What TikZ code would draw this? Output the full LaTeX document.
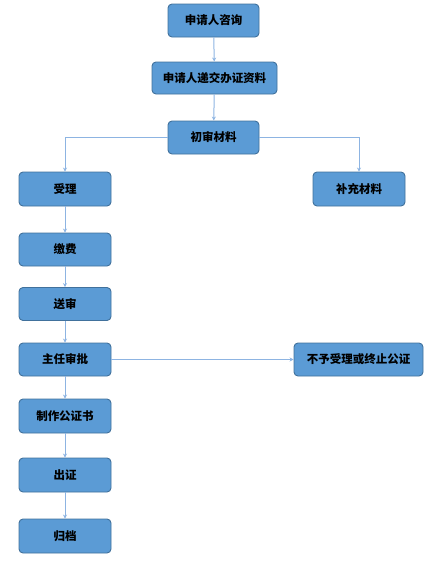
\documentclass[tikz,border=0pt]{standalone}
\usepackage{fontspec}
\newfontfamily\cjk{Noto Sans CJK SC}
\usetikzlibrary{arrows.meta}
\definecolor{boxfill}{RGB}{91,155,213}
\definecolor{boxdraw}{RGB}{65,113,156}
\definecolor{arr}{RGB}{141,180,226}
\tikzset{
  box/.style={draw=boxdraw, fill=boxfill, line width=0.9pt, rounded corners=4pt,
    minimum height=33pt, minimum width=92pt, inner sep=0pt,
    font=\cjk\bfseries\fontsize{11.5pt}{13pt}\selectfont, text=black},
  conn/.style={draw=arr, line width=1pt, -{Stealth[length=4pt,width=4pt]}}
}
\begin{document}
\begin{tikzpicture}[x=1pt,y=-1pt]
\useasboundingbox (0,0) rectangle (437,574);
\node[box, minimum width=91pt] (a) at (213.5,20.5) {申请人咨询};
\node[box, minimum width=125pt, minimum height=32pt] (b) at (214.5,78) {申请人递交办证资料};
\node[box, minimum width=91pt] (c) at (213.5,137.5) {初审材料};
\node[box, minimum height=34pt] (d) at (65,189) {受理};
\node[box, minimum height=34pt] (e) at (359,189) {补充材料};
\node[box] (f) at (65,249.5) {缴费};
\node[box] (g) at (65,304) {送审};
\node[box] (h) at (65,359.5) {主任审批};
\node[box, minimum width=129pt] (i) at (358.5,359.5) {不予受理或终止公证};
\node[box, minimum height=34pt] (j) at (65,416) {制作公证书};
\node[box, minimum height=34pt] (k) at (65,475) {出证};
\node[box, minimum height=34pt] (l) at (65,536) {归档};
\draw[conn] (a) -- (b);
\draw[conn] (b) -- (c);
\draw[conn] (c.west) -| (d.north);
\draw[conn] (c.east) -| (e.north);
\draw[conn] (d) -- (f);
\draw[conn] (f) -- (g);
\draw[conn] (g) -- (h);
\draw[conn] (h) -- (i);
\draw[conn] (h) -- (j);
\draw[conn] (j) -- (k);
\draw[conn] (k) -- (l);
\end{tikzpicture}
\end{document}
